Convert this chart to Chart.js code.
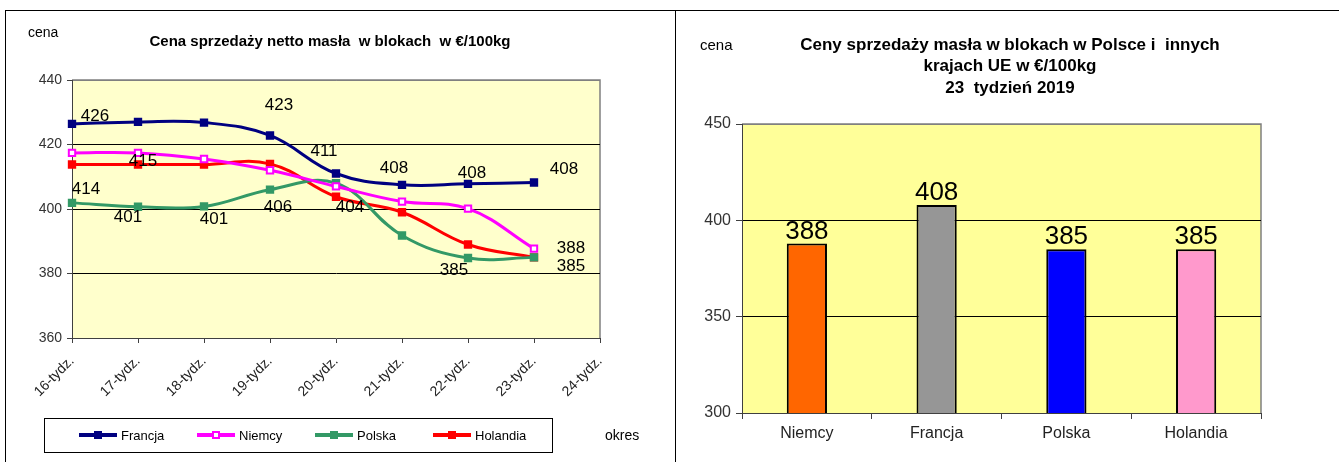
<!DOCTYPE html>
<html>
<head>
<meta charset="utf-8">
<script src="https://cdn.jsdelivr.net/npm/chart.js@4.4.1/dist/chart.umd.min.js"></script>
<style>
    html, body { margin: 0; padding: 0; background: #fff; }
    body { width: 1339px; height: 462px; position: relative; overflow: hidden; }
    .box { position: absolute; box-sizing: border-box; }
    #leftBox { left: 5px; top: 10px; width: 671px; height: 470px; border: 1.5px solid #000; }
    #rightBox { left: 675px; top: 10px; width: 670px; height: 470px; border-top: 1.5px solid #000; }
    canvas { position: absolute; }
    #cenyTygodnie { left: 6px; top: 11px; }
    #cenyKraje { left: 676px; top: 11px; }
</style>
</head>
<body>
<div class="box" id="leftBox"></div>
<div class="box" id="rightBox"></div>
<canvas id="cenyTygodnie" width="668" height="451"></canvas>
<canvas id="cenyKraje" width="663" height="451"></canvas>
<script>
// Lewy wykres: ceny w kolejnych tygodniach
const tygodnie = ['16-tydz.', '17-tydz.', '18-tydz.', '19-tydz.', '20-tydz.', '21-tydz.', '22-tydz.', '23-tydz.', '24-tydz.'];
const francja = [426.4, 427, 426.8, 422.8, 411, 407.5, 407.8, 408.2];
const niemcy = [417.4, 417.4, 415.5, 412, 407, 402.3, 400.1, 387.7];
const polska = [401.9, 400.7, 400.8, 406, 408, 391.8, 384.8, 385];
const holandia = [413.8, 413.8, 413.8, 414, 403.8, 399, 389, 385];

// etykiety danych tak jak na oryginale (nie przy kazdym punkcie)
const francjaEtykiety = ['426', '', '', '423', '411', '408', '408', '408'];
const niemcyEtykiety = ['', '415', '', '', '', '', '', '388'];
const polskaEtykiety = ['414', '401', '401', '406', '', '', '385', '385'];
const holandiaEtykiety = ['', '', '', '', '404', '', '', ''];

const osYLewa = [360, 380, 400, 420, 440];
const tytulLewy = ['Cena sprzedaży netto masła  w blokach  w €/100kg'];

// Prawy wykres: 23 tydzien 2019
const kraje = ['Niemcy', 'Francja', 'Polska', 'Holandia'];
const ceny23 = [388, 408, 385, 385];
const osYPrawa = [300, 350, 400, 450];
const tytulPrawy = ['Ceny sprzedaży masła w blokach w Polsce i  innych', 'krajach UE w €/100kg', '23  tydzień 2019'];

const FONT = "Arial, 'Liberation Sans', sans-serif";

// przesuniecia etykiet wzgledem punktow [dx, dy]
const przesuniecia = [
    [[23, -8], null, null, [9, -30], [-12, -22], [-8, -17], [4, -11], [30, -13]],
    [null, [5, 8], null, null, null, null, null, [37, 0]],
    [[14, -14], [-10, 11], [10, 13], [8, 18], null, null, [-14, 12], [37, 9]],
    [null, null, null, null, [14, 11], null, null, null]
];

// tlo obszaru wykresu + tytul + "cena"
const tloWykresu = {
    id: 'tloWykresu',
    beforeDraw(chart, args, opts) {
        const { ctx, chartArea: a } = chart;
        ctx.save();
        ctx.fillStyle = opts.color;
        ctx.fillRect(a.left, a.top, a.right - a.left, a.bottom - a.top);
        ctx.strokeStyle = '#808080';
        ctx.lineWidth = 1.5;
        ctx.beginPath();
        ctx.moveTo(a.left, a.top);
        ctx.lineTo(a.right, a.top);
        ctx.lineTo(a.right, a.bottom);
        ctx.stroke();

        ctx.fillStyle = '#000';
        ctx.textBaseline = 'middle';
        ctx.textAlign = 'center';
        ctx.font = 'bold ' + opts.tytulRozmiar + 'px ' + FONT;
        opts.tytul.forEach((linia, i) => {
            ctx.fillText(linia, opts.tytulX, opts.tytulY + i * opts.tytulOdstep);
        });
        ctx.textAlign = 'left';
        ctx.font = opts.cenaRozmiar + 'px ' + FONT;
        ctx.fillText('cena', opts.cenaX, opts.cenaY);
        ctx.restore();
    }
};

const etykietyLinii = {
    id: 'etykietyLinii',
    afterDatasetsDraw(chart) {
        const { ctx } = chart;
        ctx.save();
        ctx.font = '17px ' + FONT;
        ctx.fillStyle = '#000';
        ctx.textAlign = 'center';
        ctx.textBaseline = 'middle';
        chart.data.datasets.forEach((ds, i) => {
            const meta = chart.getDatasetMeta(i);
            meta.data.forEach((pt, j) => {
                const tekst = ds.etykiety[j];
                const off = przesuniecia[i][j];
                if (!tekst || !off) return;
                ctx.fillText(tekst, pt.x + off[0], pt.y + off[1]);
            });
        });
        ctx.restore();
    }
};

function ikonaLegendy(kolor, pusty) {
    const c = document.createElement('canvas');
    c.width = 40; c.height = 10;
    const g = c.getContext('2d');
    g.strokeStyle = kolor;
    g.lineWidth = 4;
    g.beginPath();
    g.moveTo(1, 5);
    g.lineTo(39, 5);
    g.stroke();
    g.fillStyle = kolor;
    g.fillRect(16, 1, 8, 8);
    if (pusty) {
        g.fillStyle = '#fff';
        g.fillRect(18, 3, 4, 4);
    }
    return c;
}

const legendaRamka = {
    id: 'legendaRamka',
    afterDraw(chart) {
        const { ctx } = chart;
        ctx.save();
        ctx.strokeStyle = '#000';
        ctx.lineWidth = 1;
        ctx.strokeRect(38.5, 407.5, 508, 34);
        ctx.font = '13px ' + FONT;
        ctx.textBaseline = 'middle';
        ctx.fillStyle = '#000';
        chart.data.datasets.forEach((ds, i) => {
            const x = 72 + i * 118;
            ctx.drawImage(ikonaLegendy(ds.borderColor, i === 1), x, 419);
            ctx.fillText(ds.label, x + 43, 425);
        });
        ctx.font = '14px ' + FONT;
        ctx.fillText('okres', 599, 425);
        ctx.restore();
    }
};

const seria = (label, data, etykiety, kolor, tloPunktu) => ({
    label: label,
    data: data,
    etykiety: etykiety,
    borderColor: kolor,
    backgroundColor: kolor,
    borderWidth: 3,
    pointStyle: 'rect',
    pointRadius: 4.5,
    pointBorderWidth: 2,
    pointBackgroundColor: tloPunktu || kolor,
    pointBorderColor: kolor,
    fill: false,
    tension: 0.4
});

new Chart(document.getElementById('cenyTygodnie'), {
    type: 'line',
    data: {
        labels: tygodnie,
        datasets: [
            seria('Francja', francja, francjaEtykiety, '#000080'),
            seria('Niemcy', niemcy, niemcyEtykiety, '#FF00FF', '#FFFFFF'),
            seria('Polska', polska, polskaEtykiety, '#339966'),
            seria('Holandia', holandia, holandiaEtykiety, '#FF0000')
        ]
    },
    options: {
        responsive: false,
        animation: false,
        layout: { padding: { left: 0, right: 74, top: 69, bottom: 0 } },
        plugins: {
            legend: { display: false },
            title: { display: false },
            tooltip: { enabled: false },
            tloWykresu: {
                color: '#FFFFCC',
                tytul: tytulLewy, tytulRozmiar: 15, tytulX: 324, tytulY: 31, tytulOdstep: 0,
                cenaRozmiar: 14, cenaX: 22, cenaY: 22
            }
        },
        scales: {
            x: {
                offset: false,
                afterFit: s => { s.height = 124; },
                border: { color: '#404040', width: 1 },
                grid: { drawOnChartArea: false, drawTicks: true, tickLength: 5, tickColor: '#404040' },
                ticks: {
                    autoSkip: false,
                    minRotation: 45,
                    maxRotation: 45,
                    padding: 10,
                    color: '#222',
                    font: { family: FONT, size: 14 }
                }
            },
            y: {
                min: osYLewa[0],
                max: osYLewa[osYLewa.length - 1],
                afterFit: s => { s.width = 66; },
                afterBuildTicks: s => { s.ticks = osYLewa.map(v => ({ value: v })); },
                border: { color: '#404040', width: 1 },
                grid: {
                    color: c => c.tick.value === osYLewa[osYLewa.length - 1] ? '#808080' : (c.tick.value === osYLewa[0] ? 'rgba(0,0,0,0)' : '#000'),
                    lineWidth: 1,
                    tickLength: 5,
                    tickColor: '#404040'
                },
                ticks: { padding: 5, color: '#333', font: { family: FONT, size: 14 } }
            }
        }
    },
    plugins: [tloWykresu, etykietyLinii, legendaRamka]
});

const etykietySlupkow = {
    id: 'etykietySlupkow',
    afterDatasetsDraw(chart) {
        const { ctx } = chart;
        ctx.save();
        ctx.font = '26px ' + FONT;
        ctx.fillStyle = '#000';
        ctx.textAlign = 'center';
        ctx.textBaseline = 'bottom';
        const ds = chart.data.datasets[0];
        chart.getDatasetMeta(0).data.forEach((bar, i) => {
            ctx.fillText(String(ds.data[i]), bar.x, bar.y + 1);
        });
        ctx.restore();
    }
};

new Chart(document.getElementById('cenyKraje'), {
    type: 'bar',
    data: {
        labels: kraje,
        datasets: [{
            label: 'cena',
            data: ceny23,
            backgroundColor: ['#FF6600', '#969696', '#0000FF', '#FF99CC'],
            borderColor: '#000',
            borderWidth: 2,
            borderSkipped: false,
            barPercentage: 0.31,
            categoryPercentage: 1
        }]
    },
    options: {
        responsive: false,
        animation: false,
        layout: { padding: { left: 0, right: 78, top: 113, bottom: 0 } },
        plugins: {
            legend: { display: false },
            title: { display: false },
            tooltip: { enabled: false },
            tloWykresu: {
                color: '#FFFF99',
                tytul: tytulPrawy, tytulRozmiar: 17, tytulX: 334, tytulY: 34, tytulOdstep: 21.5,
                cenaRozmiar: 15, cenaX: 24, cenaY: 35
            }
        },
        scales: {
            x: {
                afterFit: s => { s.height = 49; },
                border: { color: '#404040', width: 1 },
                grid: { offset: true, drawOnChartArea: false, tickLength: 6, tickColor: '#404040' },
                ticks: { padding: 5, color: '#222', font: { family: FONT, size: 16 } }
            },
            y: {
                min: osYPrawa[0],
                max: osYPrawa[osYPrawa.length - 1],
                afterFit: s => { s.width = 66; },
                afterBuildTicks: s => { s.ticks = osYPrawa.map(v => ({ value: v })); },
                border: { color: '#404040', width: 1 },
                grid: {
                    color: c => c.tick.value === osYPrawa[osYPrawa.length - 1] ? '#808080' : (c.tick.value === osYPrawa[0] ? 'rgba(0,0,0,0)' : '#000'),
                    lineWidth: 1,
                    tickLength: 6,
                    tickColor: '#404040'
                },
                ticks: { padding: 5, color: '#333', font: { family: FONT, size: 16 } }
            }
        }
    },
    plugins: [tloWykresu, etykietySlupkow]
});
</script>
</body>
</html>
